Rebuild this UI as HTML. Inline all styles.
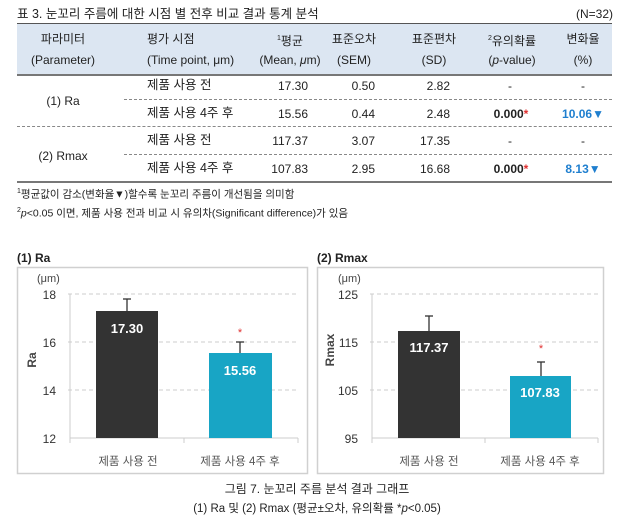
<!DOCTYPE html>
<html><head><meta charset="utf-8"><style>
body{margin:0;width:629px;height:526px;background:#fff;position:relative;font-family:"Liberation Sans","Noto Sans CJK KR",sans-serif;color:#222;overflow:hidden}
.t{position:absolute;white-space:nowrap;font-size:12px;line-height:14px}
.c{transform:translateX(-50%)}
.r{transform:translateX(-100%)}
.hl{position:absolute;left:17px;width:595px}
</style></head><body>
<div class="t" style="left:17px;top:7px;font-size:12.5px">표 3. 눈꼬리 주름에 대한 시점 별 전후 비교 결과 통계 분석</div>
<div class="t r" style="left:613px;top:7px">(N=32)</div>
<div class="hl" style="top:23px;height:50px;background:#dce6f2;border-top:1px solid #555;border-bottom:2px solid #777"></div>
<div class="t c" style="left:63px;top:32px">파라미터</div><div class="t c" style="left:63px;top:53px">(Parameter)</div>
<div class="t" style="left:147px;top:32px">평가 시점</div><div class="t" style="left:147px;top:53px">(Time point, μm)</div>
<div class="t c" style="left:290px;top:32px"><sup style="font-size:7px">1</sup>평균</div><div class="t c" style="left:290px;top:53px">(Mean, <i>μ</i>m)</div>
<div class="t c" style="left:354px;top:32px">표준오차</div><div class="t c" style="left:354px;top:53px">(SEM)</div>
<div class="t c" style="left:434px;top:32px">표준편차</div><div class="t c" style="left:434px;top:53px">(SD)</div>
<div class="t c" style="left:512px;top:32px"><sup style="font-size:7px">2</sup>유의확률</div><div class="t c" style="left:512px;top:53px">(<i>p</i>-value)</div>
<div class="t c" style="left:583px;top:32px">변화율</div><div class="t c" style="left:583px;top:53px">(%)</div>

<div class="t c" style="left:63px;top:94px">(1) Ra</div>
<div class="t c" style="left:63px;top:149px">(2) Rmax</div>
<div style="position:absolute;left:124px;width:488px;top:99px;border-top:1px dashed #888"></div>
<div style="position:absolute;left:124px;width:488px;top:154px;border-top:1px dashed #888"></div>
<div class="hl" style="top:126px;border-top:1px dashed #888"></div>
<div class="hl" style="top:181px;border-top:2px solid #777"></div>

<div class="t" style="left:147px;top:78px;font-size:12.5px">제품 사용 전</div>
<div class="t r" style="left:308px;top:79px">17.30</div><div class="t r" style="left:375px;top:79px">0.50</div><div class="t r" style="left:450px;top:79px">2.82</div>
<div class="t c" style="left:510px;top:79px">-</div><div class="t c" style="left:583px;top:79px">-</div>
<div class="t" style="left:147px;top:106px;font-size:12.5px">제품 사용 4주 후</div>
<div class="t r" style="left:308px;top:107px">15.56</div><div class="t r" style="left:375px;top:107px">0.44</div><div class="t r" style="left:450px;top:107px">2.48</div>
<div class="t c" style="left:511px;top:107px;font-weight:bold">0.000<span style="color:#e03030">*</span></div><div class="t c" style="left:583px;top:107px;font-weight:bold;color:#1f7fcf">10.06▼</div>
<div class="t" style="left:147px;top:133px;font-size:12.5px">제품 사용 전</div>
<div class="t r" style="left:308px;top:134px">117.37</div><div class="t r" style="left:375px;top:134px">3.07</div><div class="t r" style="left:450px;top:134px">17.35</div>
<div class="t c" style="left:510px;top:134px">-</div><div class="t c" style="left:583px;top:134px">-</div>
<div class="t" style="left:147px;top:161px;font-size:12.5px">제품 사용 4주 후</div>
<div class="t r" style="left:308px;top:162px">107.83</div><div class="t r" style="left:375px;top:162px">2.95</div><div class="t r" style="left:450px;top:162px">16.68</div>
<div class="t c" style="left:511px;top:162px;font-weight:bold">0.000<span style="color:#e03030">*</span></div><div class="t c" style="left:583px;top:162px;font-weight:bold;color:#1f7fcf">8.13▼</div>

<div class="t" style="left:17px;top:185px;font-size:10.5px"><sup style="font-size:7px">1</sup>평균값이 감소(변화율▼)할수록 눈꼬리 주름이 개선됨을 의미함</div>
<div class="t" style="left:17px;top:204px;font-size:10.5px"><sup style="font-size:7px">2</sup><i>p</i>&lt;0.05 이면, 제품 사용 전과 비교 시 유의차(Significant difference)가 있음</div>

<svg style="position:absolute;left:0;top:0" width="629" height="526" font-family="Liberation Sans,Noto Sans CJK KR,sans-serif">
<text x="17" y="262" font-size="12" font-weight="bold" fill="#222">(1) Ra</text>
<text x="317" y="262" font-size="12" font-weight="bold" fill="#222">(2) Rmax</text>
<rect x="17.5" y="267.5" width="290" height="206" fill="none" stroke="#d0d0d0" stroke-width="1.5"/>
<rect x="317.5" y="267.5" width="286" height="206" fill="none" stroke="#d0d0d0" stroke-width="1.5"/>
<g stroke="#ccc" stroke-dasharray="4,3"><line x1="68" x2="298" y1="294" y2="294"/><line x1="68" x2="298" y1="342" y2="342"/><line x1="68" x2="298" y1="390" y2="390"/>
<line x1="370" x2="598" y1="294" y2="294"/><line x1="370" x2="598" y1="342" y2="342"/><line x1="370" x2="598" y1="390" y2="390"/></g>
<g stroke="#ccc"><line x1="70" x2="70" y1="294" y2="438"/><line x1="70" x2="298" y1="438" y2="438"/><line x1="184" x2="184" y1="438" y2="443"/><line x1="298" x2="298" y1="438" y2="443"/><line x1="70" x2="70" y1="438" y2="443"/>
<line x1="372" x2="372" y1="294" y2="438"/><line x1="372" x2="598" y1="438" y2="438"/><line x1="485" x2="485" y1="438" y2="443"/><line x1="598" x2="598" y1="438" y2="443"/><line x1="372" x2="372" y1="438" y2="443"/></g>
<g font-size="12" fill="#333" text-anchor="end"><text x="56" y="299">18</text><text x="56" y="347">16</text><text x="56" y="395">14</text><text x="56" y="443">12</text>
<text x="358" y="299">125</text><text x="358" y="347">115</text><text x="358" y="395">105</text><text x="358" y="443">95</text></g>
<text x="37" y="282" font-size="11" fill="#444">(μm)</text><text x="338" y="282" font-size="11" fill="#444">(μm)</text>
<text transform="translate(36,360) rotate(-90)" font-size="12" font-weight="bold" fill="#444" text-anchor="middle">Ra</text>
<text transform="translate(334,350) rotate(-90)" font-size="12" font-weight="bold" fill="#444" text-anchor="middle">Rmax</text>
<g stroke="#333" stroke-width="1.3"><line x1="127" x2="127" y1="299" y2="311"/><line x1="123" x2="131" y1="299" y2="299"/>
<line x1="240" x2="240" y1="342" y2="353"/><line x1="236" x2="244" y1="342" y2="342"/>
<line x1="429" x2="429" y1="316" y2="331"/><line x1="425" x2="433" y1="316" y2="316"/>
<line x1="541" x2="541" y1="362" y2="376"/><line x1="537" x2="545" y1="362" y2="362"/></g>
<rect x="96" y="311" width="62" height="127" fill="#333"/><rect x="209" y="353" width="63" height="85" fill="#18a5c5"/>
<rect x="398" y="331" width="62" height="107" fill="#333"/><rect x="510" y="376" width="61" height="62" fill="#18a5c5"/>
<g font-size="13" font-weight="bold" fill="#fff" text-anchor="middle"><text x="127" y="333">17.30</text><text x="240" y="375">15.56</text><text x="429" y="352">117.37</text><text x="540" y="397">107.83</text></g>
<g fill="#e03030" font-size="11" text-anchor="middle"><text x="240" y="336">*</text><text x="541" y="352">*</text></g>
<g font-size="11.5" fill="#555" text-anchor="middle"><text x="128" y="465">제품 사용 전</text><text x="240" y="465">제품 사용 4주 후</text><text x="429" y="465">제품 사용 전</text><text x="540" y="465">제품 사용 4주 후</text></g>
<text x="317" y="493" font-size="12" fill="#222" text-anchor="middle">그림 7. 눈꼬리 주름 분석 결과 그래프</text>
<text x="317" y="512" font-size="11.5" fill="#222" text-anchor="middle">(1) Ra 및 (2) Rmax (평균±오차, 유의확률 *<tspan font-style="italic">p</tspan>&lt;0.05)</text>
</svg>
</body></html>
